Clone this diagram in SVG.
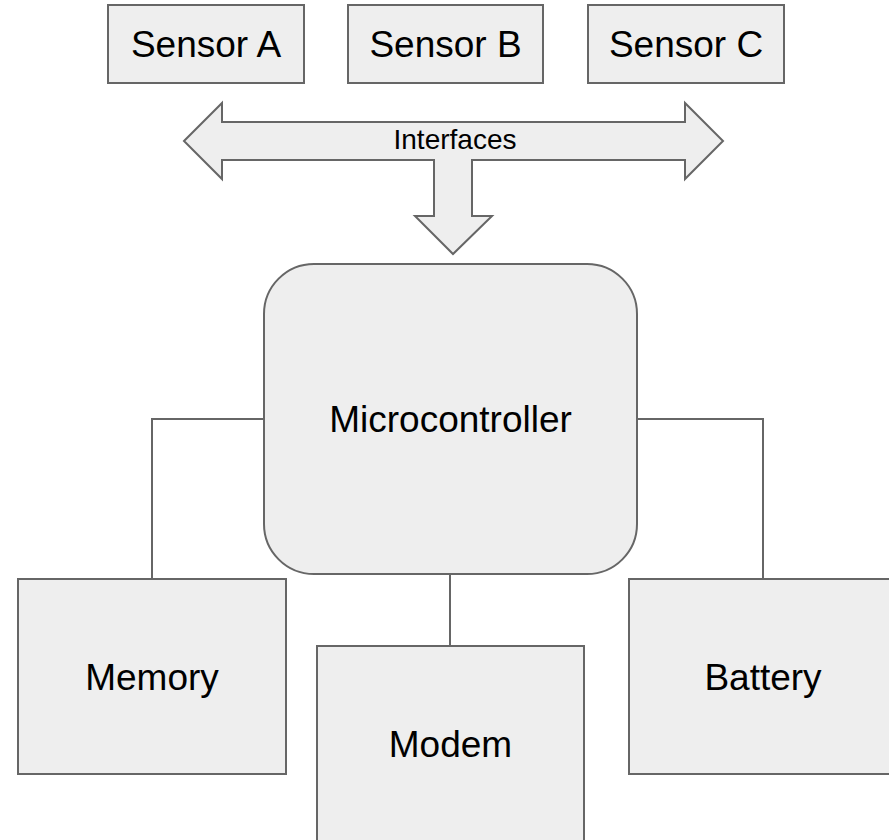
<svg xmlns="http://www.w3.org/2000/svg" width="889" height="840" viewBox="0 0 889 840">
<style>
.box{fill:#eeeeee;stroke:#666666;stroke-width:2}
.conn{fill:none;stroke:#666666;stroke-width:2}
.lbl{font-family:"Liberation Sans",Arial,sans-serif;font-size:37px;fill:#000000;text-anchor:middle}
.small{font-size:28px}
</style>
<rect width="889" height="840" fill="#ffffff"/>
<g id="connectors">
<polyline class="conn" points="264,419 152,419 152,579"/>
<polyline class="conn" points="637,419 763,419 763,579"/>
<line class="conn" x1="450" y1="574" x2="450" y2="646"/>
</g>
<g id="sensorA"><rect class="box" x="108" y="5" width="196" height="78"/><text class="lbl" x="206" y="57">Sensor A</text></g>
<g id="sensorB"><rect class="box" x="348" y="5" width="195" height="78"/><text class="lbl" x="445.5" y="57">Sensor B</text></g>
<g id="sensorC"><rect class="box" x="588" y="5" width="196" height="78"/><text class="lbl" x="686" y="57">Sensor C</text></g>
<g id="interfaces">
<polygon class="box" points="184,141 222,103 222,122 685,122 685,103 723,141 685,179 685,160 472,160 472,216 492,216 453,254 415,216 434,216 434,160 222,160 222,179"/>
<text class="lbl small" x="455" y="149">Interfaces</text>
</g>
<g id="microcontroller"><rect class="box" x="264" y="264" width="373" height="310" rx="50" ry="50"/><text class="lbl" x="450.5" y="432">Microcontroller</text></g>
<g id="memory"><rect class="box" x="18" y="579" width="268" height="195"/><text class="lbl" x="152" y="690">Memory</text></g>
<g id="modem"><rect class="box" x="317" y="646" width="267" height="196"/><text class="lbl" x="450.5" y="757">Modem</text></g>
<g id="battery"><rect class="box" x="629" y="579" width="268" height="195"/><text class="lbl" x="763" y="690">Battery</text></g>
</svg>
